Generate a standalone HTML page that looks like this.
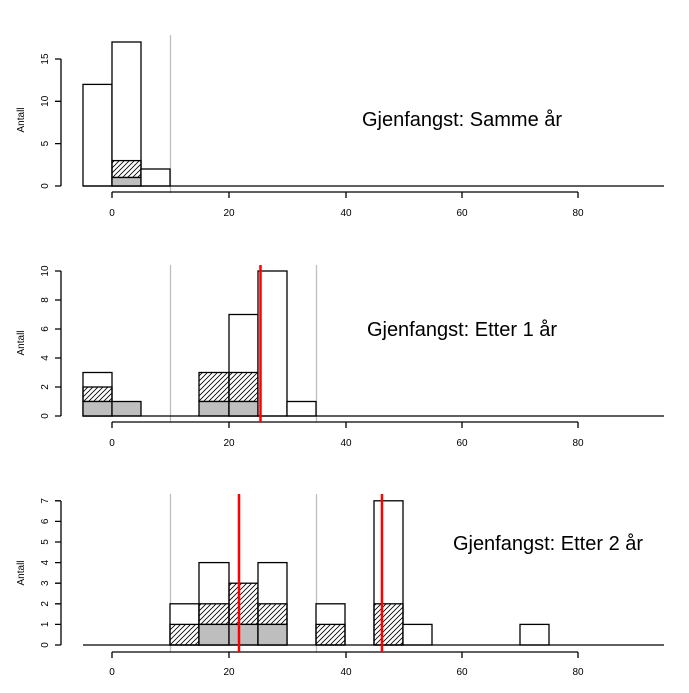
<!DOCTYPE html>
<html><head><meta charset="utf-8"><style>body{margin:0;background:#fff}</style></head><body>
<svg width="689" height="688" xmlns="http://www.w3.org/2000/svg" font-family="Liberation Sans, sans-serif">
<defs><pattern id="h" width="5" height="5" patternUnits="userSpaceOnUse"><path d="M-1,6 L6,-1 M-1,1 L1,-1 M4,6 L6,4" stroke="#000" stroke-width="0.8"/></pattern></defs>
<g id="all" stroke="#000" stroke-width="1.3" fill="none">
<!-- Panel 1: base 186, unit 8.47 -->
<line x1="170.5" y1="35" x2="170.5" y2="193" stroke="#bebebe"/>
<rect x="83" y="84.4" width="29" height="101.6" fill="#fff"/>
<rect x="112" y="42" width="29" height="144" fill="#fff"/>
<rect x="112" y="160.6" width="29" height="16.9" fill="url(#h)"/>
<rect x="112" y="177.5" width="29" height="8.5" fill="#bebebe"/>
<rect x="141" y="169" width="29" height="17" fill="#fff"/>
<line x1="83" y1="186" x2="664" y2="186"/>
<line x1="61" y1="59" x2="61" y2="186"/>
<path d="M55,186H61M55,143.6H61M55,101.3H61M55,59H61"/>
<path d="M112,192H578M112,192v6M229,192v6M346,192v6M462,192v6M578,192v6"/>
<!-- Panel 2: base 416, unit 14.5 -->
<line x1="170.5" y1="265" x2="170.5" y2="422" stroke="#bebebe"/>
<line x1="316.5" y1="265" x2="316.5" y2="422" stroke="#bebebe"/>
<rect x="83" y="372.5" width="29" height="43.5" fill="#fff"/>
<rect x="83" y="387" width="29" height="14.5" fill="url(#h)"/>
<rect x="83" y="401.5" width="29" height="14.5" fill="#bebebe"/>
<rect x="112" y="401.5" width="29" height="14.5" fill="#bebebe"/>
<rect x="199" y="372.5" width="30" height="29" fill="url(#h)"/>
<rect x="199" y="401.5" width="30" height="14.5" fill="#bebebe"/>
<rect x="229" y="314.5" width="29" height="101.5" fill="#fff"/>
<rect x="229" y="372.5" width="29" height="29" fill="url(#h)"/>
<rect x="229" y="401.5" width="29" height="14.5" fill="#bebebe"/>
<rect x="258" y="271" width="29" height="145" fill="#fff"/>
<rect x="287" y="401.5" width="29" height="14.5" fill="#fff"/>
<line x1="83" y1="416" x2="664" y2="416"/>
<line x1="61" y1="271" x2="61" y2="416"/>
<path d="M55,416H61M55,387H61M55,358H61M55,329H61M55,300H61M55,271H61"/>
<path d="M112,422H578M112,422v6M229,422v6M346,422v6M462,422v6M578,422v6"/>
<line x1="260.5" y1="265" x2="260.5" y2="422" stroke="#f00" stroke-width="2.5"/>
<!-- Panel 3: base 645, unit 20.6 -->
<line x1="170.5" y1="494" x2="170.5" y2="652" stroke="#bebebe"/>
<line x1="316.5" y1="494" x2="316.5" y2="652" stroke="#bebebe"/>
<rect x="170" y="603.8" width="29" height="41.2" fill="#fff"/>
<rect x="170" y="624.4" width="29" height="20.6" fill="url(#h)"/>
<rect x="199" y="562.6" width="30" height="82.4" fill="#fff"/>
<rect x="199" y="603.8" width="30" height="20.6" fill="url(#h)"/>
<rect x="199" y="624.4" width="30" height="20.6" fill="#bebebe"/>
<rect x="229" y="583.2" width="29" height="41.2" fill="url(#h)"/>
<rect x="229" y="624.4" width="29" height="20.6" fill="#bebebe"/>
<rect x="258" y="562.6" width="29" height="82.4" fill="#fff"/>
<rect x="258" y="603.8" width="29" height="20.6" fill="url(#h)"/>
<rect x="258" y="624.4" width="29" height="20.6" fill="#bebebe"/>
<rect x="316" y="603.8" width="29" height="41.2" fill="#fff"/>
<rect x="316" y="624.4" width="29" height="20.6" fill="url(#h)"/>
<rect x="374" y="500.8" width="29" height="144.2" fill="#fff"/>
<rect x="374" y="603.8" width="29" height="41.2" fill="url(#h)"/>
<rect x="403" y="624.4" width="29" height="20.6" fill="#fff"/>
<rect x="520" y="624.4" width="29" height="20.6" fill="#fff"/>
<line x1="83" y1="645" x2="664" y2="645"/>
<line x1="61" y1="501" x2="61" y2="645"/>
<path d="M55,645H61M55,624.4H61M55,603.8H61M55,583.2H61M55,562.6H61M55,542H61M55,521.4H61M55,500.8H61"/>
<path d="M112,652H578M112,652v6M229,652v6M346,652v6M462,652v6M578,652v6"/>
<line x1="239" y1="494" x2="239" y2="652" stroke="#f00" stroke-width="2.5"/>
<line x1="382" y1="494" x2="382" y2="652" stroke="#f00" stroke-width="2.5"/>
</g>
<g font-size="10" text-anchor="middle" fill="#000">
<text x="112" y="216">0</text><text x="229" y="216">20</text><text x="346" y="216">40</text><text x="462" y="216">60</text><text x="578" y="216">80</text>
<text x="112" y="446">0</text><text x="229" y="446">20</text><text x="346" y="446">40</text><text x="462" y="446">60</text><text x="578" y="446">80</text>
<text x="112" y="675">0</text><text x="229" y="675">20</text><text x="346" y="675">40</text><text x="462" y="675">60</text><text x="578" y="675">80</text>
<g transform="rotate(-90)">
<text x="-186" y="48">0</text><text x="-143.6" y="48">5</text><text x="-101.3" y="48">10</text><text x="-59" y="48">15</text>
<text x="-416" y="48">0</text><text x="-387" y="48">2</text><text x="-358" y="48">4</text><text x="-329" y="48">6</text><text x="-300" y="48">8</text><text x="-271" y="48">10</text>
<text x="-645" y="48">0</text><text x="-624.4" y="48">1</text><text x="-603.8" y="48">2</text><text x="-583.2" y="48">3</text><text x="-562.6" y="48">4</text><text x="-542" y="48">5</text><text x="-521.4" y="48">6</text><text x="-500.8" y="48">7</text>
<text x="-120" y="24">Antall</text><text x="-343" y="24">Antall</text><text x="-573" y="24">Antall</text>
</g>
</g>
<g font-size="20" text-anchor="middle" fill="#000">
<text x="462" y="126">Gjenfangst: Samme år</text>
<text x="462" y="336">Gjenfangst: Etter 1 år</text>
<text x="548" y="550">Gjenfangst: Etter 2 år</text>
</g>
</svg>
</body></html>
